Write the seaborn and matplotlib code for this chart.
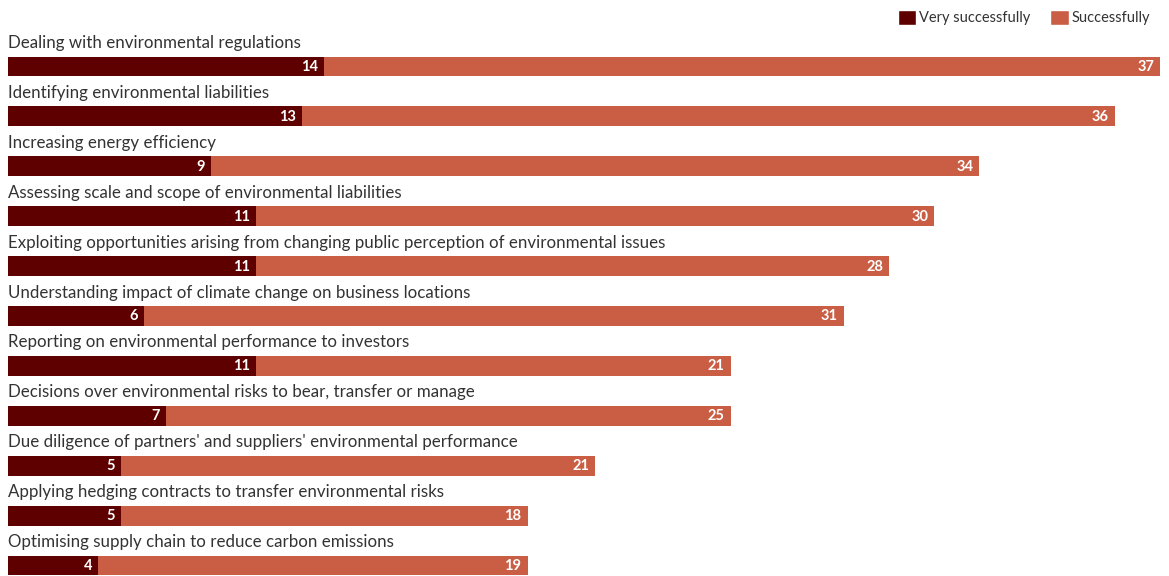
import matplotlib
matplotlib.use("Agg")
import matplotlib.pyplot as plt
import seaborn as sns
import pandas as pd
from matplotlib.patches import Patch

categories = [
    "Dealing with environmental regulations",
    "Identifying environmental liabilities",
    "Increasing energy efficiency",
    "Assessing scale and scope of environmental liabilities",
    "Exploiting opportunities arising from changing public perception of environmental issues",
    "Understanding impact of climate change on business locations",
    "Reporting on environmental performance to investors",
    "Decisions over environmental risks to bear, transfer or manage",
    "Due diligence of partners' and suppliers' environmental performance",
    "Applying hedging contracts to transfer environmental risks",
    "Optimising supply chain to reduce carbon emissions",
]
very_successfully = [14, 13, 9, 11, 11, 6, 11, 7, 5, 5, 4]
successfully = [37, 36, 34, 30, 28, 31, 21, 25, 21, 18, 19]

DARK = "#5f0000"
LIGHT = "#c95e45"
TEXT = "#333333"

sns.set_theme(style="white")
plt.rcParams["font.family"] = ["Lato", "DejaVu Sans"]

df = pd.DataFrame({
    "category": categories,
    "very": very_successfully,
    "succ": successfully,
})
df["total"] = df["very"] + df["succ"]

W, H = 1169, 576
fig = plt.figure(figsize=(W / 100, H / 100), dpi=100)
ax = fig.add_axes([0, 0, 1, 1])

# stacked bars: full total in light colour, very-successful share over it
sns.barplot(data=df, y="category", x="total", color=LIGHT, orient="h",
            width=0.4, saturation=1, linewidth=0, ax=ax, errorbar=None)
sns.barplot(data=df, y="category", x="very", color=DARK, orient="h",
            width=0.4, saturation=1, linewidth=0, ax=ax, errorbar=None)

px_per_unit = 22.59
row_px = 49.9
first_center = 66.5
ax.set_xlim(-8 / px_per_unit, (W - 8) / px_per_unit)
ax.set_ylim((H - first_center) / row_px, -first_center / row_px)

for i, row in df.iterrows():
    ax.text(0, i - 0.47, row["category"], ha="left", va="center",
            fontsize=12.2, color=TEXT)
    ax.text(row["very"] - 0.27, i + 0.01, str(row["very"]), ha="right",
            va="center", fontsize=10.5, fontweight="bold", color="white")
    ax.text(row["total"] - 0.27, i + 0.01, str(row["succ"]), ha="right",
            va="center", fontsize=10.5, fontweight="bold", color="white")

ax.set_axis_off()

handles = [Patch(facecolor=DARK, label="Very successfully"),
           Patch(facecolor=LIGHT, label="Successfully")]
fig.legend(handles=handles, loc="upper right", bbox_to_anchor=(0.995, 1.006),
           ncol=2, frameon=False, fontsize=10.5, handlelength=1.25,
           handleheight=1.25, handletextpad=0.2, columnspacing=1.4,
           labelcolor=TEXT)

fig.savefig("out.png", dpi=100)
